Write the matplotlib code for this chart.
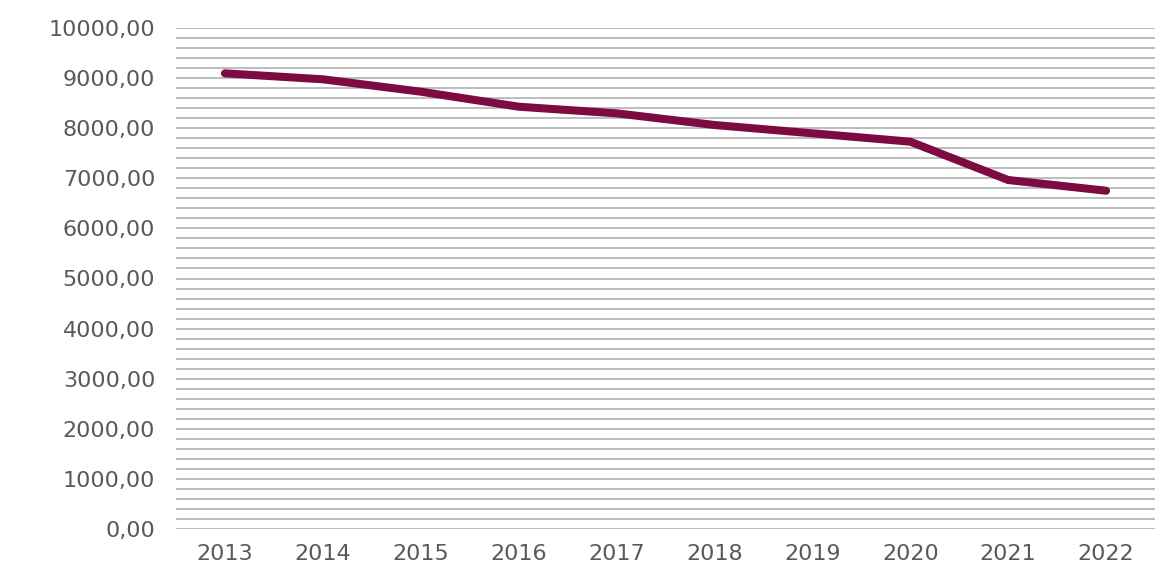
import matplotlib.pyplot as plt
import numpy as np
from matplotlib.ticker import FuncFormatter, MultipleLocator

years = ['2013', '2014', '2015', '2016', '2017', '2018', '2019', '2020', '2021', '2022']
values = [9095, 8976, 8729, 8429, 8297, 8064, 7898, 7731, 6966, 6752]

fig = plt.figure(figsize=(11.68, 5.78), dpi=100)
ax = fig.add_axes([176 / 1168, 49 / 578, 979 / 1168, 501 / 578])

x = np.arange(len(years))
ax.plot(x, values, color='#7d0a40', linewidth=5.8, solid_capstyle='round',
        solid_joinstyle='round', zorder=3)

ax.set_xlim(-0.5, len(years) - 0.5)
ax.set_ylim(0, 10000)
ax.set_xticks(x)
ax.set_xticklabels(years)
ax.yaxis.set_major_locator(MultipleLocator(1000))
ax.yaxis.set_minor_locator(MultipleLocator(200))
ax.yaxis.set_major_formatter(FuncFormatter(lambda v, p: f'{v:.2f}'.replace('.', ',')))

# gray gridlines every 200
ax.grid(which='both', axis='y', color='#bdbdbd', linewidth=1.4)
ax.set_axisbelow(True)
for s in ax.spines.values():
    s.set_visible(False)
ax.tick_params(axis='both', which='both', length=0, labelsize=16, colors='#595959')
ax.tick_params(axis='y', pad=15)
ax.tick_params(axis='x', pad=11)

plt.savefig('out.png', dpi=100)
